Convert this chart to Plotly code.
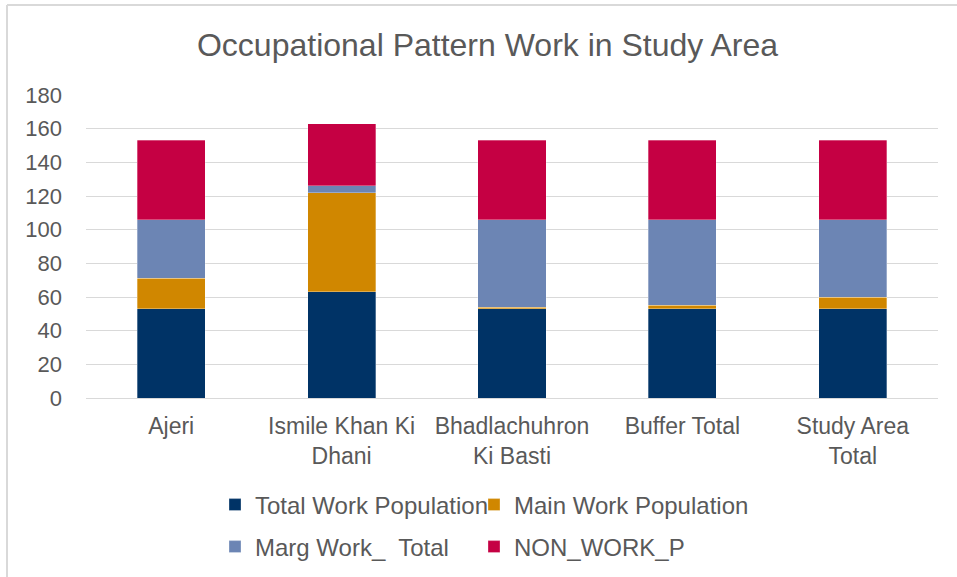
import plotly.graph_objects as go

categories = ["Ajeri", "Ismile Khan Ki<br>Dhani", "Bhadlachuhron<br>Ki Basti", "Buffer Total", "Study Area<br>Total"]
total_work = [53, 63, 53, 53, 53]
main_work = [18, 59, 1, 2, 7]
marg_work = [35, 4, 52, 51, 46]
non_work = [47, 37, 47, 47, 47]
y_ticks = [0, 20, 40, 60, 80, 100, 120, 140, 160, 180]

series = [
    ("Total Work Population", total_work, "#003366", "legend"),
    ("Main Work Population", main_work, "#D08700", "legend2"),
    ("Marg Work_  Total", marg_work, "#6C85B4", "legend3"),
    ("NON_WORK_P", non_work, "#C50043", "legend4"),
]

fig = go.Figure()
for name, vals, color, lg in series:
    fig.add_trace(go.Bar(
        x=categories, y=vals, name=name, legend=lg, showlegend=True,
        marker=dict(color=color, line=dict(color="rgba(255,255,255,0.6)", width=0.5)),
    ))

font = "Liberation Sans, Arial, sans-serif"
W, H = 957, 577
PL, PR, PT, PB = 86, 938, 95, 398
pw, ph = PR - PL, PB - PT


def px(x):
    return (x - PL) / pw


def py(y):
    return (PB - y) / ph


def leg(x_px, y_px):
    return dict(orientation="h", xref="container", yref="container",
                x=x_px / W, y=1 - y_px / H, xanchor="left", yanchor="middle",
                font=dict(size=24, color="#595959", family=font),
                bgcolor="rgba(0,0,0,0)")


fig.update_layout(
    barmode="stack",
    bargap=0.6,
    showlegend=True,
    width=W, height=H,
    margin=dict(l=PL, r=W - PR, t=PT, b=H - PB, autoexpand=False),
    paper_bgcolor="white", plot_bgcolor="white",
    font=dict(family=font, size=22, color="#595959"),
    title=dict(text="Occupational Pattern Work in Study Area", xref="container", x=487.5 / W,
               xanchor="center", y=1 - 45 / H, yanchor="middle",
               font=dict(size=32, color="#595959", family=font)),
    xaxis=dict(showgrid=False, showline=True, linecolor="#d9d9d9", linewidth=1, ticks="",
               ticklabelstandoff=7, tickfont=dict(size=23, color="#595959")),
    yaxis=dict(range=[0, 180], tickvals=y_ticks, showgrid=True, gridcolor="#d9d9d9", gridwidth=1,
               zeroline=False, showline=False, ticks="", ticklabelstandoff=23,
               tickfont=dict(size=22, color="#595959")),
    legend=leg(215, 505),
    legend2=leg(474, 505),
    legend3=leg(215, 547),
    legend4=leg(474, 547),
    shapes=[
        dict(type="line", xref="paper", yref="paper", x0=px(7), x1=px(W),
             y0=py(5), y1=py(5), line=dict(color="#d9d9d9", width=2)),
        dict(type="line", xref="paper", yref="paper", x0=px(7), x1=px(7),
             y0=py(5), y1=py(H), line=dict(color="#d9d9d9", width=2)),
    ],
)

fig.write_html("out.html", config={"displayModeBar": False},
               post_script="document.body.style.margin='0';")
